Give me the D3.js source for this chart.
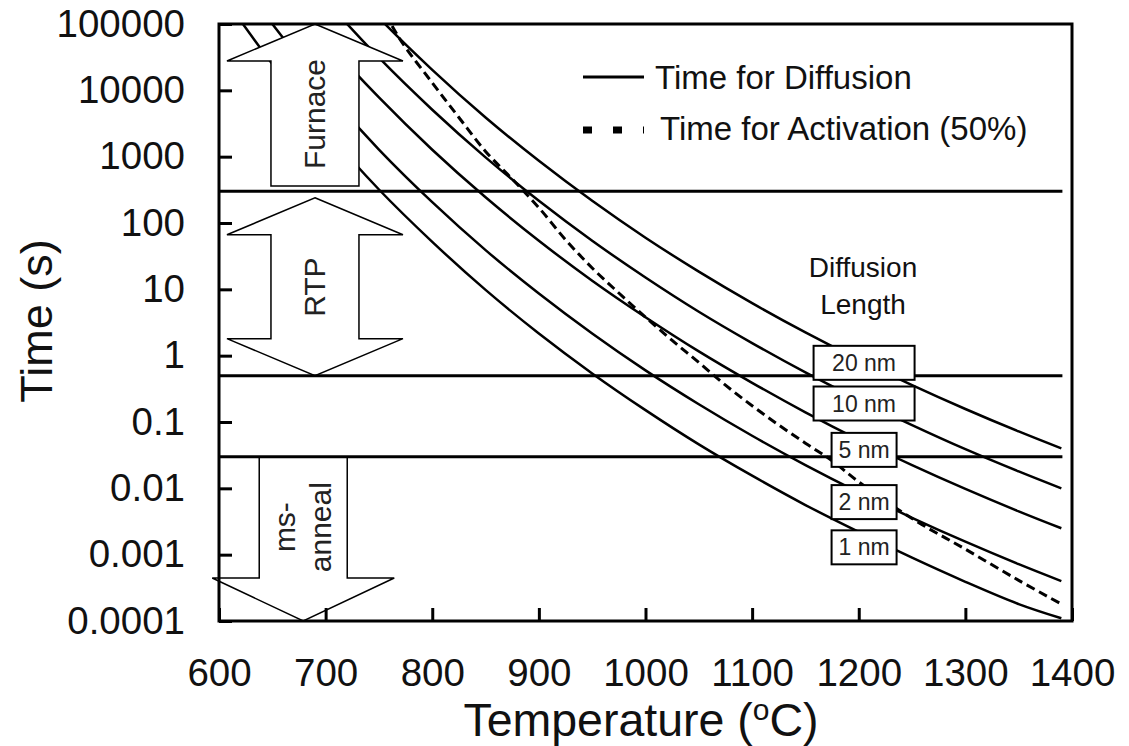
<!DOCTYPE html>
<html>
<head>
<meta charset="utf-8">
<script src="https://cdn.jsdelivr.net/npm/d3@7"></script>
<style>
  body { margin: 0; background: #fff; }
  svg { display: block; font-family: "Liberation Sans", Arial, sans-serif; }
</style>
</head>
<body>
<div id="chart"></div>
<script>
// temperatures (C) at which the diffusion curves were read
var temps = [600, 650, 700, 750, 800, 850, 900, 950, 1000, 1050, 1100, 1150, 1200, 1250, 1300, 1350, 1390];

// time for diffusion (s), one list per diffusion length
var t20nm = [9.9e7, 8.4e6, 9.2e5, 1.24e5, 2.04e4, 3.9e3, 865, 216, 60, 18.5, 6.2, 2.24, 0.87, 0.36, 0.157, 0.072, 0.040];
var t10nm = [2.5e7, 2.1e6, 2.3e5, 3.1e4, 5.1e3, 977, 216, 54, 15.1, 4.6, 1.55, 0.56, 0.218, 0.090, 0.039, 0.018, 0.010];
var t5nm  = [6.2e6, 5.2e5, 5.7e4, 7.8e3, 1.27e3, 244, 54, 13.5, 3.8, 1.16, 0.39, 0.14, 0.054, 0.0224, 0.0098, 0.0045, 0.0025];
var t2nm  = [1.25e6, 1.0e5, 1.0e4, 1.28e3, 206, 39, 8.65, 2.16, 0.60, 0.185, 0.062, 0.0224, 0.0087, 0.0036, 0.00157, 0.00072, 0.00040];
var t1nm  = [3.2e5, 2.5e4, 2.5e3, 320, 52, 9.8, 2.16, 0.54, 0.151, 0.046, 0.0155, 0.0056, 0.0022, 0.0009, 0.00039, 0.00018, 0.00011];

// time for activation (50%)
var actTemps = [750, 770, 800, 825, 850, 875, 900, 925, 950, 975, 1000, 1025, 1050, 1075, 1100, 1125, 1150, 1175, 1200, 1250, 1300, 1350, 1390];
var actTimes = [2.2e5, 5.8e4, 1.3e4, 3.9e3, 1.2e3, 460, 170, 56, 21, 8.8, 3.8, 1.7, 0.79, 0.36, 0.176, 0.090, 0.048, 0.026, 0.0125, 0.0035, 0.00121, 0.00041, 0.00018];

// process windows (s)
var windowLimits = [300, 0.5, 0.03];

// labels
var lengthLabels = ["20 nm", "10 nm", "5 nm", "2 nm", "1 nm"];
var labelTemp = 1205;
var labelTimes = [0.78, 0.19, 0.038, 0.0062, 0.00129];

var xTicks = [600, 700, 800, 900, 1000, 1100, 1200, 1300, 1400];
var yTicks = [1e-4, 1e-3, 1e-2, 1e-1, 1, 10, 100, 1000, 10000, 100000];
var yTickLabels = ["0.0001", "0.001", "0.01", "0.1", "1", "10", "100", "1000", "10000", "100000"];

// arrows: name, centre temperature, top time, bottom time, heads, label position
var arrowNames = ["Furnace", "RTP", "ms-anneal"];
var arrowTemps = [690, 690, 679];
var arrowTops = [1e5, 240, 0.03];
var arrowBottoms = [360, 0.5, 1e-4];
var arrowUp = [true, true, false];
var arrowDown = [false, true, true];
var arrowLabelTimes = [4400, 10.8, 0.0026];

var W = 1129, H = 746;
var svg = d3.select("#chart").append("svg").attr("width", W).attr("height", H);
svg.append("rect").attr("width", W).attr("height", H).attr("fill", "#fff");

var x = d3.scaleLinear().domain([600, 1400]).range([219, 1072]);
var y = d3.scaleLog().domain([1e-4, 1e5]).range([621, 24]);

svg.append("clipPath").attr("id", "plot")
  .append("rect").attr("x", 219).attr("y", 24).attr("width", 853).attr("height", 597);

var line = d3.line()
  .x(function (d) { return x(d[0]); })
  .y(function (d) { return y(d[1]); })
  .curve(d3.curveCatmullRom);

var curves = svg.append("g").attr("clip-path", "url(#plot)");

[t20nm, t10nm, t5nm, t2nm, t1nm].forEach(function (ts) {
  curves.append("path")
    .datum(d3.zip(temps, ts))
    .attr("d", line)
    .attr("fill", "none")
    .attr("stroke", "#000")
    .attr("stroke-width", 2.5);
});

curves.append("path")
  .datum(d3.zip(actTemps, actTimes))
  .attr("d", line)
  .attr("fill", "none")
  .attr("stroke", "#000")
  .attr("stroke-width", 3)
  .attr("stroke-dasharray", "9,5");

// block arrows (white, drawn over the curves)
arrowNames.forEach(function (name, i) {
  var cx = x(arrowTemps[i]);
  var top = y(arrowTops[i]), bot = y(arrowBottoms[i]);
  var ms = !arrowUp[i];
  var hw = ms ? 91 : 88, sw = 44, hl = ms ? 43 : 37;
  var p = [];
  if (arrowUp[i]) {
    p.push([cx, top], [cx + hw, top + hl], [cx + sw, top + hl]);
  } else {
    p.push([cx + sw, top]);
  }
  if (arrowDown[i]) {
    p.push([cx + sw, bot - hl], [cx + hw, bot - hl], [cx, bot], [cx - hw, bot - hl], [cx - sw, bot - hl]);
  } else {
    p.push([cx + sw, bot], [cx - sw, bot]);
  }
  if (arrowUp[i]) {
    p.push([cx - sw, top + hl], [cx - hw, top + hl]);
  } else {
    p.push([cx - sw, top]);
  }
  svg.append("path")
    .attr("d", "M" + p.join("L") + "Z")
    .attr("fill", "#fff")
    .attr("stroke", "#000")
    .attr("stroke-width", 1.5);

  var words = name === "ms-anneal" ? ["ms-", "anneal"] : [name];
  var cy = y(arrowLabelTimes[i]);
  var lab = svg.append("text")
    .attr("transform", "translate(" + (cx + 9) + "," + cy + ") rotate(-90)")
    .attr("text-anchor", "middle")
    .attr("font-size", 30)
    .attr("fill", "#222");
  words.forEach(function (w, k) {
    lab.append("tspan").attr("x", 0)
      .attr("y", (k - (words.length - 1) / 2) * 36.5 + 1)
      .text(w);
  });
});

// process window limits
svg.selectAll(".limit").data(windowLimits).enter().append("line")
  .attr("x1", x(600)).attr("x2", x(1391))
  .attr("y1", function (d) { return y(d); })
  .attr("y2", function (d) { return y(d); })
  .attr("stroke", "#000")
  .attr("stroke-width", 3);

// diffusion length labels
lengthLabels.forEach(function (lab, i) {
  var cx = x(labelTemp), cy = y(labelTimes[i]);
  var bw = lab.length > 4 ? 101 : 65;
  svg.append("rect")
    .attr("x", cx - bw / 2).attr("y", cy - 17)
    .attr("width", bw).attr("height", 34)
    .attr("fill", "#fff").attr("stroke", "#000").attr("stroke-width", 2);
  svg.append("text")
    .attr("x", cx).attr("y", cy + 8)
    .attr("text-anchor", "middle")
    .attr("font-size", 23)
    .attr("fill", "#222")
    .text(lab);
});

// axes
var xAxis = svg.append("g").attr("transform", "translate(0,621)")
  .call(d3.axisBottom(x).tickValues(xTicks).tickFormat(d3.format("d"))
    .tickSizeInner(-13).tickSizeOuter(0).tickPadding(38));
var yAxis = svg.append("g").attr("transform", "translate(219,0)")
  .call(d3.axisLeft(y).tickValues(yTicks)
    .tickFormat(function (d, i) { return yTickLabels[i]; })
    .tickSizeInner(-13).tickSizeOuter(0).tickPadding(34));

[xAxis, yAxis].forEach(function (g) {
  g.select(".domain").remove();
  g.selectAll(".tick line").attr("stroke", "#000").attr("stroke-width", 3);
  g.selectAll(".tick text")
    .attr("font-family", "'Liberation Sans', Arial, sans-serif")
    .attr("font-size", 38.5).attr("fill", "#111");
});

svg.append("rect")
  .attr("x", 219).attr("y", 24).attr("width", 853).attr("height", 597)
  .attr("fill", "none").attr("stroke", "#000").attr("stroke-width", 3);

// axis titles
var xt = svg.append("text")
  .attr("x", 641).attr("y", 736)
  .attr("text-anchor", "middle")
  .attr("font-size", 46.5).attr("fill", "#111");
xt.append("tspan").text("Temperature (");
xt.append("tspan").attr("font-size", 30).attr("dy", -16).text("o");
xt.append("tspan").attr("dy", 16).text("C)");

svg.append("text")
  .attr("transform", "translate(52,321) rotate(-90)")
  .attr("text-anchor", "middle")
  .attr("font-size", 45).attr("fill", "#111")
  .text("Time (s)");

// legend
svg.append("line").attr("x1", 583).attr("x2", 644).attr("y1", 77).attr("y2", 77)
  .attr("stroke", "#000").attr("stroke-width", 3);
svg.append("text").attr("x", 655).attr("y", 89).attr("font-size", 33).attr("fill", "#111")
  .text("Time for Diffusion");
svg.append("line").attr("x1", 583).attr("x2", 644).attr("y1", 130).attr("y2", 130)
  .attr("stroke", "#000").attr("stroke-width", 7).attr("stroke-dasharray", "9,21");
svg.append("text").attr("x", 660).attr("y", 140).attr("font-size", 33).attr("fill", "#111")
  .text("Time for Activation (50%)");

svg.append("text").attr("x", 863).attr("y", 277).attr("text-anchor", "middle")
  .attr("font-size", 28).attr("fill", "#111").text("Diffusion");
svg.append("text").attr("x", 863).attr("y", 314).attr("text-anchor", "middle")
  .attr("font-size", 28).attr("fill", "#111").text("Length");
</script>
</body>
</html>
